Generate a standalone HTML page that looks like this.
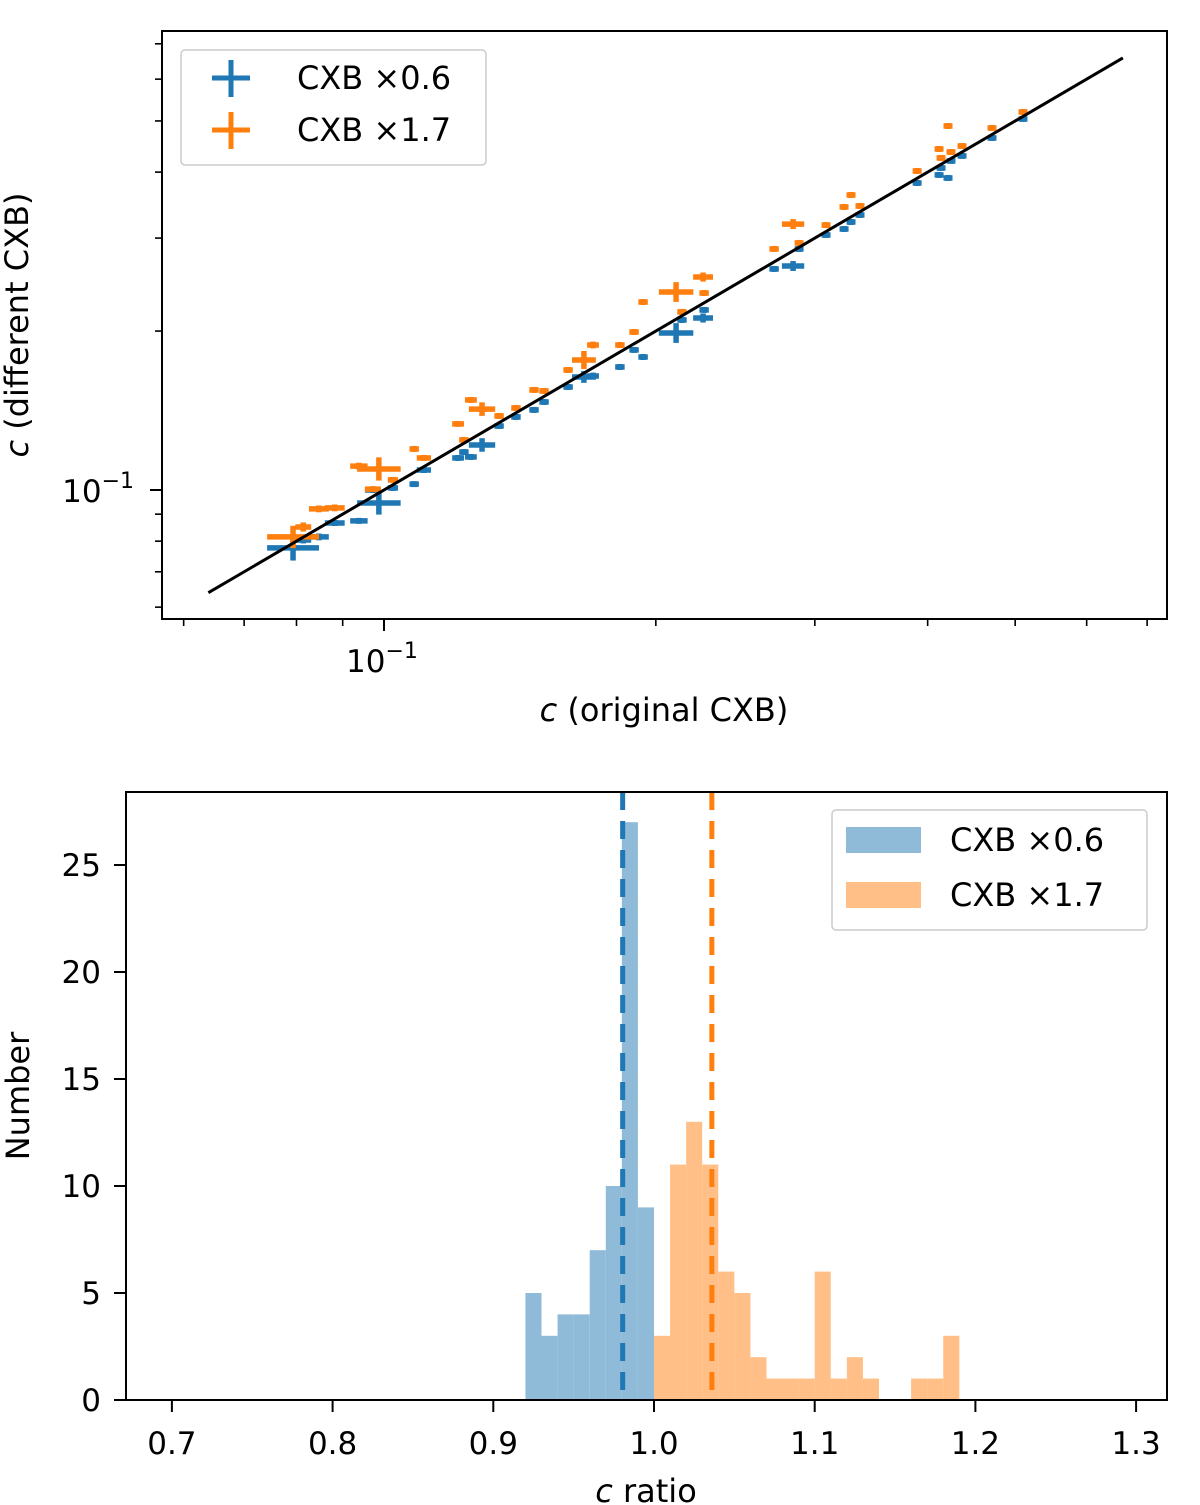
<!DOCTYPE html>
<html><head><meta charset="utf-8"><style>
html,body{margin:0;padding:0;background:#fff;}
svg{display:block;font-family:"DejaVu Sans","Liberation Sans",sans-serif;}
</style></head><body>
<svg id="fig" width="1200" height="1505" viewBox="0 0 1200 1505">
  <g id="top"></g>
  <g id="bot"></g>
</svg>
<script>
// ---------- top panel data ----------
const xOrig = [0.0793,0.0814,0.0847,0.0882,0.0938,0.0987,0.0972,0.1023,0.1080,0.1107,0.1208,0.1226,0.1248,0.1284,0.1341,0.1400,0.1466,0.1504,0.1599,0.1665,0.1704,0.1825,0.1892,0.1936,0.2106,0.2138,0.2256,0.2262,0.2704,0.2838,0.2882,0.3087,0.3232,0.3290,0.3366,0.3894,0.4118,0.4213,0.4139,0.4245,0.4366,0.4713,0.5101];
const yBlue = [0.0777,0.0804,0.0815,0.0866,0.0874,0.0945,0.1000,0.1009,0.1026,0.1091,0.1150,0.1180,0.1155,0.1217,0.1322,0.1375,0.1418,0.1468,0.1567,0.1637,0.1644,0.1710,0.1842,0.1786,0.1983,0.2099,0.2117,0.2193,0.2622,0.2656,0.2861,0.3041,0.3121,0.3218,0.3318,0.3815,0.3951,0.3899,0.4073,0.4200,0.4293,0.4642,0.5044];
const yOrange = [0.0815,0.0851,0.0921,0.0925,0.1110,0.1096,0.1004,0.1045,0.1196,0.1150,0.1334,0.1244,0.1481,0.1423,0.1381,0.1430,0.1547,0.1540,0.1688,0.1763,0.1882,0.1882,0.1992,0.2270,0.2371,0.2174,0.2531,0.2361,0.2861,0.3189,0.2937,0.3175,0.3436,0.3620,0.3451,0.4020,0.4424,0.4891,0.4255,0.4367,0.4482,0.4849,0.5200];
const xErr = [0.064,0.02,0.025,0.025,0.022,0.054,0.02,0.013,0.012,0.018,0.015,0.012,0.015,0.033,0.012,0.012,0.012,0.012,0.012,0.03,0.015,0.012,0.012,0.012,0.043,0.012,0.025,0.012,0.012,0.028,0.01,0.01,0.01,0.01,0.01,0.007,0.006,0.006,0.006,0.006,0.006,0.006,0.006];
const yErrB = [0.057,0.015,0.015,0.013,0.013,0.052,0.013,0.013,0.01,0.013,0.013,0.01,0.013,0.03,0.012,0.012,0.012,0.012,0.012,0.026,0.015,0.012,0.012,0.012,0.044,0.012,0.02,0.012,0.012,0.022,0.012,0.01,0.01,0.01,0.01,0.008,0.007,0.007,0.007,0.007,0.007,0.007,0.007];
const yErrO = [0.05,0.02,0.015,0.015,0.015,0.052,0.013,0.013,0.012,0.013,0.013,0.012,0.013,0.03,0.012,0.012,0.012,0.012,0.012,0.04,0.015,0.012,0.012,0.012,0.044,0.012,0.02,0.012,0.012,0.022,0.012,0.01,0.01,0.01,0.01,0.008,0.007,0.007,0.007,0.007,0.007,0.007,0.007];
const lineRange = [0.0639, 0.658];
const topMinorTicks = [0.06,0.07,0.08,0.09,0.2,0.3,0.4,0.5,0.6,0.7];

// ---------- bottom panel data ----------
const binStartsBlue = [0.92,0.93,0.94,0.95,0.96,0.97,0.98,0.99];
const countsBlue = [5,3,4,4,7,10,27,9];
const binStartsOrange = [1.00,1.01,1.02,1.03,1.04,1.05,1.06,1.07,1.08,1.09,1.10,1.11,1.12,1.13,1.14,1.15,1.16,1.17,1.18];
const countsOrange = [3,11,13,11,6,5,2,1,1,1,6,1,2,1,0,0,1,1,3];
const binWidth = 0.01;
const medianBlue = 0.9805, medianOrange = 1.036;
const xTicksBot = [0.7,0.8,0.9,1.0,1.1,1.2,1.3];
const yTicksBot = [0,5,10,15,20,25];

const NS="http://www.w3.org/2000/svg";
function mk(parent,tag,attrs){const e=document.createElementNS(NS,tag);for(const k in attrs)e.setAttribute(k,attrs[k]);parent.appendChild(e);return e;}

// ---- top axes ----
const T=document.getElementById('top');
const TL=162,TR=1167,TT=31,TB=619;
const X0=384,XD=903,Y0=490,YD=528;
const sx=v=>X0+XD*(Math.log10(v)+1);
const sy=v=>Y0-YD*(Math.log10(v)+1);

function drawSeries(ys,errs,color,name){
  const g=mk(T,'g',{});
  
  
  for(let i=0;i<xOrig.length;i++){
    const x=xOrig[i],y=ys[i];
    const cx=sx(x),cy=sy(y);
    const hx=Math.max(4.5,cx-sx(x*(1-xErr[i])));
    const hy=Math.max(3,cy-sy(y*(1+errs[i])));
    const l=mk(g,'line',{x1:cx-hx,x2:cx+hx,y1:cy,y2:cy,stroke:color,'stroke-width':5.5});
    
    
    const v=mk(g,'line',{x1:cx,x2:cx,y1:cy-hy,y2:cy+hy,stroke:color,'stroke-width':5.5});
    
    
  }
}
drawSeries(yBlue,yErrB,'#1f77b4','series-cxb-0.6');
drawSeries(yOrange,yErrO,'#ff7f0e','series-cxb-1.7');
const oneLine=mk(T,'line',{x1:sx(lineRange[0]),y1:sy(lineRange[0]),x2:sx(lineRange[1]),y2:sy(lineRange[1]),stroke:'#000','stroke-width':3});


const tf=mk(T,'rect',{x:TL,y:TT,width:TR-TL,height:TB-TT,fill:'none',stroke:'#000','stroke-width':2});


mk(T,'line',{x1:sx(0.1),x2:sx(0.1),y1:TB,y2:TB+12,stroke:'#000','stroke-width':2});
mk(T,'line',{x1:TL,x2:TL-12,y1:sy(0.1),y2:sy(0.1),stroke:'#000','stroke-width':2});
topMinorTicks.forEach(v=>{
  if(sx(v)>TL&&sx(v)<TR) mk(T,'line',{x1:sx(v),x2:sx(v),y1:TB,y2:TB+7,stroke:'#000','stroke-width':1.6});
  if(sy(v)<TB&&sy(v)>TT) mk(T,'line',{x1:TL,x2:TL-7,y1:sy(v),y2:sy(v),stroke:'#000','stroke-width':1.6});
});
</script>
<script>
(function(){
const T=document.getElementById('top');
T.insertAdjacentHTML('beforeend',`
<text x="382" y="672" font-size="31" text-anchor="middle">10<tspan font-size="22" dy="-14">−1</tspan></text>
<text x="134" y="502" font-size="31" text-anchor="end">10<tspan font-size="22" dy="-14">−1</tspan></text>
<text x="664" y="721" font-size="32" text-anchor="middle"><tspan font-style="italic">c</tspan> (original CXB)</text>
<text transform="translate(28,325) rotate(-90)" font-size="32" text-anchor="middle"><tspan font-style="italic">c</tspan> (different CXB)</text>
<g>
<rect x="181" y="50" width="305" height="115" rx="4" fill="#fff" stroke="#ccc" stroke-width="1.5"/>
<g><line x1="212" x2="250" y1="78" y2="78" stroke="#1f77b4" stroke-width="5"/><line x1="231" x2="231" y1="60" y2="97" stroke="#1f77b4" stroke-width="5"/>
<text x="297" y="89" font-size="32">CXB ×0.6</text></g>
<g><line x1="212" x2="250" y1="130" y2="130" stroke="#ff7f0e" stroke-width="5"/><line x1="231" x2="231" y1="112" y2="149" stroke="#ff7f0e" stroke-width="5"/>
<text x="297" y="141" font-size="32">CXB ×1.7</text></g>
</g>`);
})();
</script>
<script>
// ---- bottom histogram ----
const B=document.getElementById('bot');
const BL=126,BR=1167,BT=792,BB=1400;
const bx=v=>654+(v-1.0)*1607;
const by=v=>BB-v*21.4;
function drawHist(starts,counts,color,name){
  const g=mk(B,'g',{});
  
  
  for(let i=0;i<starts.length;i++){
    if(!counts[i])continue;
    const r=mk(g,'rect',{x:bx(starts[i]),y:by(counts[i]),width:bx(starts[i]+binWidth)-bx(starts[i]),height:BB-by(counts[i]),fill:color});
    
    
  }
}
drawHist(binStartsBlue,countsBlue,'#8fbbd9','hist-cxb-0.6');
drawHist(binStartsOrange,countsOrange,'#ffbf86','hist-cxb-1.7');
const mb=mk(B,'line',{x1:bx(medianBlue),x2:bx(medianBlue),y1:BT,y2:BB,stroke:'#1f77b4','stroke-width':5,'stroke-dasharray':'18,11'});


const mo=mk(B,'line',{x1:bx(medianOrange),x2:bx(medianOrange),y1:BT,y2:BB,stroke:'#ff7f0e','stroke-width':5,'stroke-dasharray':'18,11'});


const bf=mk(B,'rect',{x:BL,y:BT,width:BR-BL,height:BB-BT,fill:'none',stroke:'#000','stroke-width':2});


xTicksBot.forEach(v=>{
  mk(B,'line',{x1:bx(v),x2:bx(v),y1:BB,y2:BB+12,stroke:'#000','stroke-width':2});
  const t=mk(B,'text',{x:bx(v),y:BB+54,'font-size':31,'text-anchor':'middle'});
  t.textContent=v.toFixed(1);
  
  
});
yTicksBot.forEach(v=>{
  mk(B,'line',{x1:BL,x2:BL-12,y1:by(v),y2:by(v),stroke:'#000','stroke-width':2});
  const t=mk(B,'text',{x:BL-25,y:by(v)+11,'font-size':31,'text-anchor':'end'});
  t.textContent=String(v);
  
  
});
B.insertAdjacentHTML('beforeend',`
<text x="646" y="1502" font-size="32" text-anchor="middle"><tspan font-style="italic">c</tspan> ratio</text>
<text transform="translate(29,1096) rotate(-90)" font-size="32" text-anchor="middle">Number</text>
<g>
<rect x="832" y="810" width="315" height="120" rx="4" fill="#fff" stroke="#ccc" stroke-width="1.5"/>
<g><rect x="846" y="827" width="75" height="26" fill="#8fbbd9"/><text x="950" y="851" font-size="32">CXB ×0.6</text></g>
<g><rect x="846" y="882" width="75" height="26" fill="#ffbf86"/><text x="950" y="906" font-size="32">CXB ×1.7</text></g>
</g>`);
</script>
</body></html>
